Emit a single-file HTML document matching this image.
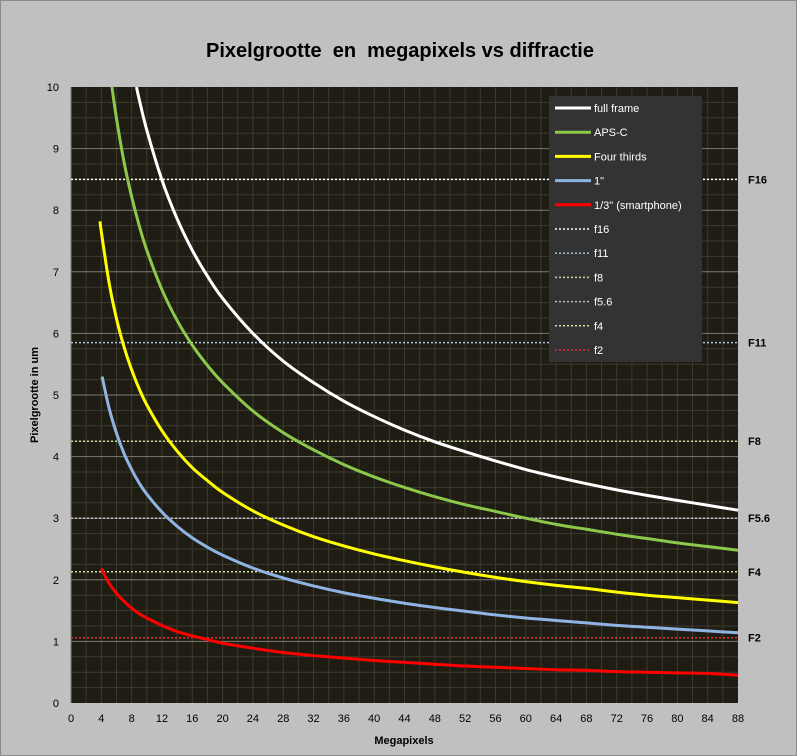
<!DOCTYPE html>
<html><head><meta charset="utf-8"><style>
html,body{margin:0;padding:0;background:#c0c0c0;}
svg{display:block;font-family:"Liberation Sans",sans-serif;}
</style></head><body>
<svg id="chart" width="797" height="756" xmlns="http://www.w3.org/2000/svg">
<rect x="0.5" y="0.5" width="796" height="755" fill="#c0c0c0" stroke="#8a8a8a"/>
<text x="400" y="57" text-anchor="middle" font-size="20" font-weight="bold" fill="#000" xml:space="preserve">Pixelgrootte  en  megapixels vs diffractie</text>
<rect x="71" y="87" width="667" height="616" fill="#1f1d13"/>
<g id="grid"></g><g id="axes"></g><g id="hlines"></g><g id="series"></g><g id="legend"></g>
<text transform="translate(38,395) rotate(-90)" text-anchor="middle" font-size="11" font-weight="bold">Pixelgrootte in um</text>
<text x="404" y="744" text-anchor="middle" font-size="11" font-weight="bold">Megapixels</text>
</svg>
<script>
const xTicks=[0,4,8,12,16,20,24,28,32,36,40,44,48,52,56,60,64,68,72,76,80,84,88];
const yTicks=[0,1,2,3,4,5,6,7,8,9,10];
const tailMP=[10,12,14,16,18,20,24,28,32,36,40,44,48,52,56,60,64,68,72,76,80,84,88];
const ffMP=[8.64,9].concat(tailMP);
const ffVals=[10.0,9.80,9.30,8.49,7.86,7.35,6.93,6.57,6.0,5.55,5.20,4.90,4.65,4.43,4.24,4.08,3.93,3.79,3.67,3.56,3.46,3.37,3.29,3.21,3.13];
const apsMP=[5.4,6,7,8,9].concat(tailMP);
const apsVals=[10.0,9.49,8.78,8.22,7.75,7.35,6.71,6.21,5.81,5.48,5.20,4.74,4.39,4.11,3.87,3.67,3.50,3.35,3.22,3.11,3.0,2.90,2.82,2.74,2.67,2.60,2.54,2.48];
const ftMP=[3.83,4,5,6,7,8,9].concat(tailMP);
const ftVals=[7.82,7.65,6.84,6.24,5.78,5.41,5.10,4.84,4.42,4.09,3.82,3.61,3.42,3.12,2.89,2.70,2.55,2.42,2.31,2.21,2.12,2.04,1.97,1.91,1.86,1.80,1.75,1.71,1.67,1.63];
const oneMP=[4.1,5,6,7,8,9].concat(tailMP);
const oneVals=[5.30,4.80,4.38,4.05,3.79,3.57,3.39,3.10,2.87,2.68,2.53,2.40,2.19,2.03,1.90,1.79,1.70,1.62,1.55,1.49,1.43,1.38,1.34,1.30,1.26,1.23,1.20,1.17,1.14];
const smMP=[4,5,6,7,8,9].concat(tailMP);
const smVals=[2.18,1.95,1.78,1.65,1.54,1.45,1.38,1.26,1.16,1.09,1.03,0.97,0.89,0.82,0.77,0.73,0.69,0.66,0.63,0.60,0.58,0.56,0.54,0.53,0.51,0.50,0.49,0.48,0.45];
const fLabels=["F16","F11","F8","F5.6","F4","F2"];
const fVals=[8.5,5.85,4.25,3.0,2.13,1.06];
const fColors=["#ffffff","#a9c8e0","#c4d79b","#c8b8d0","#d8e4a0","#e03030"];
const seriesNames=["full frame","APS-C","Four thirds","1\"","1/3\" (smartphone)"];
const seriesColors=["#ffffff","#8cc84b","#ffff00","#8fb4e3","#ff0000"];

const NS="http://www.w3.org/2000/svg";
const X0=71,X1=738,Y0=703,Y1=87;
const xs=v=>X0+(v/88)*(X1-X0);
const ys=v=>Y0-(v/10)*(Y0-Y1);
function mk(tag,attrs,parent){const e=document.createElementNS(NS,tag);for(const k in attrs)e.setAttribute(k,attrs[k]);parent.appendChild(e);return e;}
const grid=document.getElementById('grid'),axes=document.getElementById('axes');
for(let v=2;v<88;v+=2){const l=mk('line',{x1:xs(v),x2:xs(v),y1:Y1,y2:Y0,stroke:'#3d3b30','stroke-width':1},grid);

}
for(let v=0.25;v<10;v+=0.25){const major=Math.abs(v-Math.round(v))<1e-6;
const l=mk('line',{x1:X0,x2:X1,y1:ys(v),y2:ys(v),stroke:major?'#7a7a72':'#3d3b30','stroke-width':1},grid);

}
mk('line',{x1:X0,x2:X0,y1:Y1,y2:Y0,stroke:'#808080'},axes);
xTicks.forEach(t=>{const e=mk('text',{x:xs(t),y:722,'text-anchor':'middle','font-size':11,fill:'#000'},axes);e.textContent=t;

});
yTicks.forEach(t=>{const e=mk('text',{x:59,y:ys(t)+4,'text-anchor':'end','font-size':11,fill:'#000'},axes);e.textContent=t;

});
const hl=document.getElementById('hlines');
fVals.forEach((v,i)=>{const l=mk('line',{x1:X0,x2:X1,y1:ys(v),y2:ys(v),stroke:fColors[i],'stroke-width':1.5,'stroke-dasharray':'2,2'},hl);


const t=mk('text',{x:748,y:ys(v)+4,'font-size':11,'font-weight':'bold',fill:'#000'},hl);t.textContent=fLabels[i];

});
const sg=document.getElementById('series');
const allMP=[ffMP,apsMP,ftMP,oneMP,smMP],allV=[ffVals,apsVals,ftVals,oneVals,smVals];
allMP.forEach((mp,i)=>{const pts=mp.map((m,j)=>[xs(m),ys(allV[i][j])]);
let d='M'+pts[0][0]+','+pts[0][1];
for(let j=0;j<pts.length-1;j++){const p0=pts[j-1]||pts[j],p1=pts[j],p2=pts[j+1],p3=pts[j+2]||p2;
d+=` C${p1[0]+(p2[0]-p0[0])/6},${p1[1]+(p2[1]-p0[1])/6} ${p2[0]-(p3[0]-p1[0])/6},${p2[1]-(p3[1]-p1[1])/6} ${p2[0]},${p2[1]}`;}
const p=mk('path',{d:d,fill:'none',stroke:seriesColors[i],'stroke-width':3,'stroke-linejoin':'round'},sg);

});
const lg=document.getElementById('legend');
const box=mk('rect',{x:549,y:96,width:153,height:266,fill:'#333333'},lg);


const entries=seriesNames.map((n,i)=>({n:n,c:seriesColors[i],dash:false})).concat(fLabels.map((f,i)=>({n:f.toLowerCase(),c:fColors[i],dash:true})));
entries.forEach((e,i)=>{const y=108+i*24.2;
mk('line',{x1:555,x2:591,y1:y,y2:y,stroke:e.c,'stroke-width':e.dash?1.5:3,'stroke-dasharray':e.dash?'2,2':'none'},lg);
const t=mk('text',{x:594,y:y+4,'font-size':11,fill:'#ffffff'},lg);t.textContent=e.n;

});
</script>
</body></html>
